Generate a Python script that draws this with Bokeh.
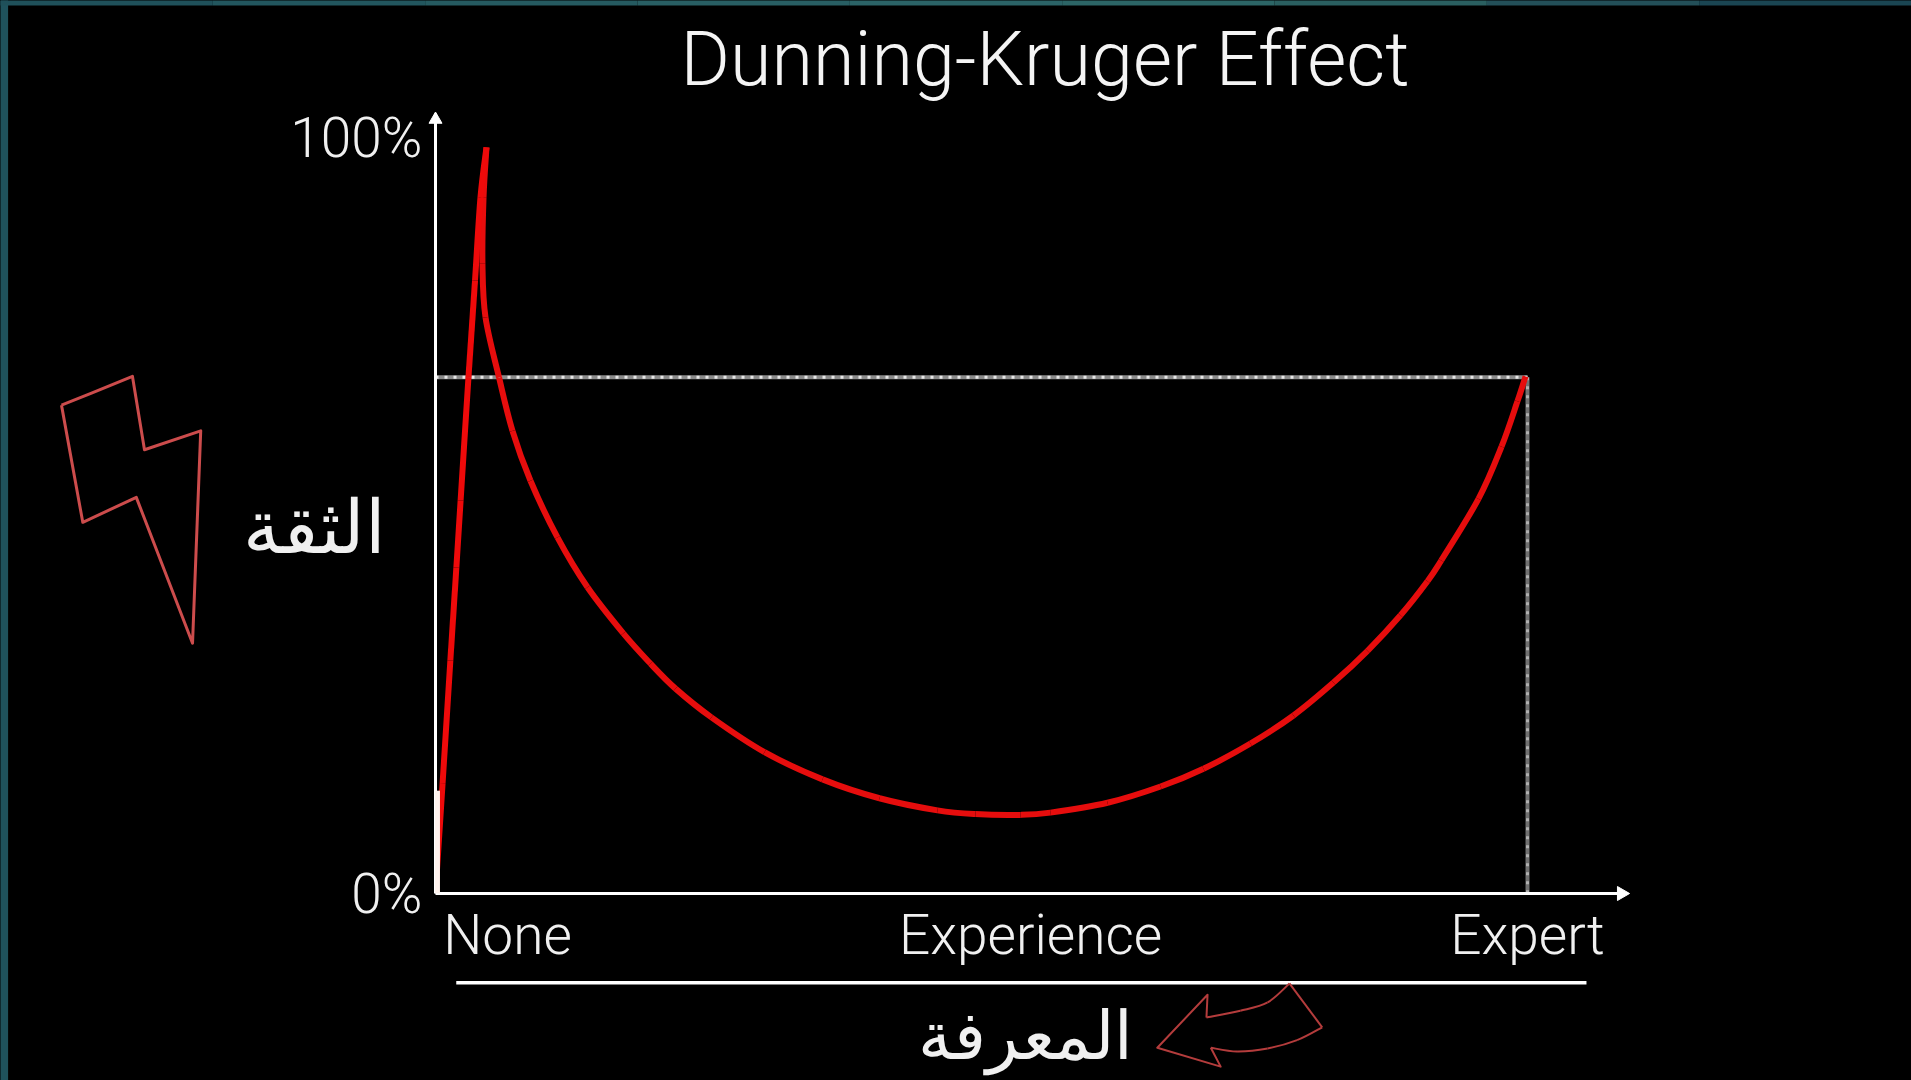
import math
from bokeh.plotting import figure
from bokeh.models import Range1d, FixedTicker, Title
from bokeh.core.properties import value
from bokeh.embed import file_html
from bokeh.resources import INLINE

# ---- chart data, in axis units (experience %, confidence %) ----
rise_x = [0, 0.65, 1.36, 1.91, 2.30, 3.02, 3.62, 4.12, 4.67]
rise_y = [0.1, 14.6, 30.8, 43.1, 52.0, 68.3, 81.1, 92.1, 98.7]
fall_x = [4.67, 4.40, 4.30, 4.58, 5.82, 7.05, 8.70, 11.17, 13.92, 17.2, 19.69, 21.98, 25.27, 30.13,
          35.44, 40.66, 45.97, 49.45, 53.57, 56.32, 61.54, 66.4, 70.33, 74.63, 78.57, 82.23,
          85.35, 88.37, 90.84, 92.1, 95.51, 97.62, 99.08, 99.82]
fall_y = [98.7, 92.1, 83.3, 76.2, 68.25, 61.2, 54.6, 47.1, 40.5, 34.4, 30.4, 27.1, 23.3, 18.7,
          15.1, 12.6, 11.0, 10.5, 10.4, 10.7, 12.0, 14.15, 16.5, 19.84, 23.55, 27.9,
          32.1, 36.8, 41.3, 44.05, 52.2, 59.1, 65.1, 68.4]
expert_x = [0, 100, 100]
expert_y = [68.3, 68.3, 0]
x_ticks = [6.6, 54.5, 100]
x_labels = ["None", "Experience", "Expert"]
y_ticks = [0, 100]
y_labels = ["0%", "100%"]

bolt_x = [-34.25, -31.5, -27.75, -26.65, -21.5, -22.25, -27.4, -32.3, -34.25]
bolt_y = [64.6, 66.2, 68.4, 58.7, 61.2, 33.1, 52.4, 49.1, 64.6]
arrow_upper_x = [78.2, 76.2, 73.7, 70.6]
arrow_upper_y = [-11.9, -14.4, -15.5, -16.4]
arrow_head_x = [70.6, 70.7, 66.1, 71.9, 71.0]
arrow_head_y = [-16.4, -13.4, -20.4, -22.9, -20.4]
arrow_lower_x = [71.0, 73.4, 76.2, 78.9, 81.2]
arrow_lower_y = [-20.4, -20.9, -20.5, -19.4, -17.7]
arrow_tail_x = [81.2, 78.2]
arrow_tail_y = [-17.7, -11.9]

TITLE = "Dunning-Kruger Effect"
Y_NAME = "الثقة"
X_NAME = "المعرفة"
FONT = "Roboto Light"
AR_FONT = "Noto Sans"

# page geometry
W, H = 1911, 1080
L, T, R, B = 435, 113, 1627, 893
X_PER_PX = 100 / 1092
Y_PER_PX = 100 / 756
xpx = lambda px: (px - L) * X_PER_PX
ypx = lambda py: (B - py) * Y_PER_PX

p = figure(width=W, height=H, output_backend="svg", toolbar_location=None,
           x_range=Range1d(0, xpx(R)), y_range=Range1d(0, ypx(T)),
           min_border_left=L, min_border_right=W - R, min_border_top=T, min_border_bottom=H - B,
           background_fill_color="black", border_fill_color="black",
           outline_line_color="black", outline_line_width=2,
           styles={"background-color": "black"})
p.grid.visible = False

p.title = Title(text=TITLE, text_font=FONT, text_font_size="75.5px", text_font_style="normal",
                text_color="#f4f4f4", align="left", offset=680 - L, standoff=21)

for ax in (p.xaxis[0], p.yaxis[0]):
    ax.axis_line_color = "white"
    ax.axis_line_width = 3
    ax.major_tick_line_color = None
    ax.minor_tick_line_color = None
    ax.major_label_text_color = "#f0f0f0"
    ax.major_label_text_font = FONT
    ax.major_label_text_font_size = "55px"
p.xaxis[0].ticker = FixedTicker(ticks=x_ticks)
p.xaxis[0].major_label_overrides = dict(zip(x_ticks, x_labels))
p.xaxis[0].major_label_standoff = 3
p.yaxis[0].ticker = FixedTicker(ticks=y_ticks)
p.yaxis[0].major_label_overrides = dict(zip(y_ticks, y_labels))
p.yaxis[0].major_label_standoff = 7


def smooth(xs, ys, **kw):
    """Draw a line through the read points as Bezier spans, so no corner shows."""
    n = len(xs)
    x0, y0, x1, y1, cx0, cy0, cx1, cy1 = [], [], [], [], [], [], [], []
    for i in range(n - 1):
        a, b = max(i - 1, 0), min(i + 2, n - 1)
        x0.append(xs[i]); y0.append(ys[i]); x1.append(xs[i + 1]); y1.append(ys[i + 1])
        cx0.append(xs[i] + (xs[i + 1] - xs[a]) / 6); cy0.append(ys[i] + (ys[i + 1] - ys[a]) / 6)
        cx1.append(xs[i + 1] - (xs[b] - xs[i]) / 6); cy1.append(ys[i + 1] - (ys[b] - ys[i]) / 6)
    p.bezier(x0=x0, y0=y0, x1=x1, y1=y1, cx0=cx0, cy0=cy0, cx1=cx1, cy1=cy1, **kw)


# guide lines
p.line(expert_x[:2], expert_y[:2], line_color="#8a8a8a", line_width=4)
p.line(expert_x[:2], expert_y[:2], line_color="#e6e6e6", line_width=3, line_dash="3 6")
p.line(expert_x[1:], expert_y[1:], line_color="#707070", line_width=4)
p.line(expert_x[1:], expert_y[1:], line_color="#b0b0b0", line_width=3, line_dash="3 6")

# thick stub at the axis foot
p.line([0.18, 0.18], [0, 13.6], line_color="#fff3ee", line_width=5, level="overlay")

# curve
smooth(fall_x, fall_y, line_color="#e60d0d", line_width=6)
smooth(rise_x, rise_y, line_color="#ee0a0a", line_width=6)

# arrow tips of the axes
p.scatter([xpx(R - 6)], [0], marker="triangle", size=14, angle=-math.pi / 2,
          fill_color="white", line_color="white", level="overlay")
p.scatter([0], [ypx(T + 6)], marker="triangle", size=13,
          fill_color="white", line_color="white", level="overlay")

# underline below the x labels and the hand drawn marks
p.line([1.9, 105.4], [-11.8, -11.8], line_color="white", line_width=3.5, level="overlay")
p.line(bolt_x, bolt_y, line_color="#cc4c4c", line_width=3, level="overlay", line_join="round")
hand = dict(line_color="#b43c3c", line_width=2, level="overlay")
smooth(arrow_upper_x, arrow_upper_y, **hand)
smooth(arrow_lower_x, arrow_lower_y, **hand)
p.line(arrow_head_x, arrow_head_y, line_join="round", **hand)
p.line(arrow_tail_x, arrow_tail_y, **hand)

# axis names
p.text([xpx(314)], [ypx(524)], text=[Y_NAME], text_font=value(AR_FONT), text_font_size="74px",
       text_color="#f0f0f0", text_align="center", text_baseline="middle", level="overlay")
p.text([xpx(1025)], [ypx(1032)], text=[X_NAME], text_font=value(AR_FONT), text_font_size="67px",
       text_color="#f0f0f0", text_align="center", text_baseline="middle", level="overlay")

# teal slide edge
p.quad(left=[xpx(0)], right=[xpx(7.6)], top=[ypx(0)], bottom=[ypx(H)],
       fill_color="#1f525c", line_alpha=0, level="overlay")
strip = ["#1f505a", "#22565e", "#255a60", "#285e63", "#2b6367", "#2c6566", "#2a5f60", "#234f58", "#1a4552"]
step = W / len(strip)
p.quad(left=[xpx(i * step) for i in range(len(strip))], right=[xpx((i + 1) * step) for i in range(len(strip))],
       top=[ypx(0)] * len(strip), bottom=[ypx(5)] * len(strip),
       fill_color=strip, line_alpha=0, level="overlay")

open("out.html", "w").write(file_html(p, INLINE))
